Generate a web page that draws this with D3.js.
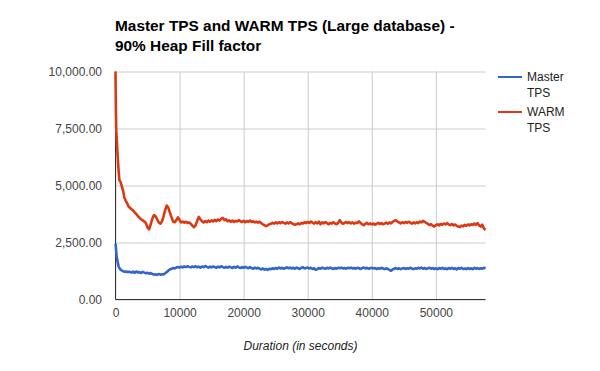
<!DOCTYPE html>
<html>
<head>
<meta charset="utf-8">
<script src="https://cdn.jsdelivr.net/npm/d3@7"></script>
<style>
  html, body { margin: 0; padding: 0; background: #fff; }
  svg { display: block; font-family: "Liberation Sans", Arial, sans-serif; }
</style>
</head>
<body>
<svg id="chart" width="600" height="371"></svg>
<script>
// ---------------- DATA ----------------
const titleLines = ["Master TPS and WARM TPS (Large database) -", "90% Heap Fill factor"];
const xAxisTitle = "Duration (in seconds)";
const seriesNames = ["Master TPS", "WARM TPS"];
const xTickValues = [0, 10000, 20000, 30000, 40000, 50000];
const yTickValues = [0, 2500, 5000, 7500, 10000];

// sample times (seconds): dense start, then every 250 s
const earlyTimes = [0, 60, 120, 200, 300, 400, 500, 600, 800, 1000, 1200, 1400, 1600, 1800, 2000];
const sampleStep = 250;
const lastTime = 57750;

const masterTPS = [
  2450, 2300, 2050, 1850, 1700, 1550, 1450, 1380, 1310, 1270, 1240, 1220, 1230, 1200, 1220,
  1210,
  1180, 1220, 1170, 1230, 1190, 1200, 1160, 1210, 1180, 1150,
  1170, 1130, 1160, 1120, 1090, 1110, 1080, 1120, 1090, 1110,
  1100, 1150, 1200, 1270, 1320, 1350, 1380, 1360, 1400, 1420,
  1400, 1440, 1410, 1450, 1420, 1460, 1430, 1410, 1450, 1420,
  1460, 1410, 1440, 1400, 1450, 1420, 1470, 1430, 1400, 1440,
  1410, 1450, 1420, 1390, 1440, 1410, 1460, 1420, 1390, 1430,
  1400, 1440, 1410, 1380, 1430, 1400, 1450, 1410, 1380, 1420,
  1390, 1430, 1400, 1370, 1420, 1380, 1350, 1400, 1360, 1390,
  1350, 1320, 1360, 1310, 1340, 1300, 1350, 1330, 1370, 1340,
  1380, 1350, 1400, 1360, 1390, 1350, 1380, 1410, 1370, 1400,
  1360, 1390, 1350, 1400, 1370, 1340, 1390, 1410, 1360, 1380,
  1400, 1360, 1390, 1340, 1370, 1300, 1330, 1380, 1350, 1400,
  1370, 1350, 1390, 1360, 1400, 1370, 1340, 1380, 1350, 1390,
  1370, 1400, 1360, 1380, 1350, 1390, 1370, 1400, 1360, 1380,
  1350, 1390, 1370, 1340, 1380, 1400, 1360, 1390, 1350, 1370,
  1390, 1360, 1380, 1340, 1370, 1350, 1390, 1360, 1330, 1370,
  1340, 1300, 1260, 1320, 1350, 1380, 1340, 1370, 1330, 1360,
  1380, 1340, 1370, 1350, 1390, 1360, 1330, 1370, 1350, 1390,
  1360, 1400, 1350, 1380, 1340, 1370, 1390, 1350, 1380, 1340,
  1370, 1330, 1380, 1350, 1390, 1340, 1370, 1330, 1380, 1350,
  1390, 1340, 1370, 1320, 1380, 1350, 1390, 1340, 1360, 1330,
  1380, 1340, 1370, 1330, 1390, 1350, 1380, 1340, 1370, 1350,
  1390, 1360
];

const warmTPS = [
  10000, 8300, 7400, 7000, 6500, 6000, 5600, 5250, 5150, 4950, 4750, 4450, 4330, 4230, 4100,
  4020,
  3960, 3900, 3820, 3740, 3660, 3580, 3520, 3470, 3420, 3350,
  3150, 3080, 3300, 3550, 3700, 3650, 3520, 3380, 3330, 3420,
  3650, 3920, 4120, 4020, 3800, 3600, 3420, 3390, 3480, 3600,
  3480, 3380, 3420, 3370, 3410, 3360, 3380, 3320, 3240, 3170,
  3250, 3450, 3620, 3520, 3430, 3380, 3440, 3390, 3460, 3410,
  3470, 3420, 3490, 3440, 3510, 3460, 3540, 3580, 3480, 3520,
  3430, 3470, 3410, 3460, 3400, 3450, 3420, 3480, 3430, 3400,
  3450, 3390, 3440, 3410, 3460, 3400, 3430, 3380, 3420, 3370,
  3410, 3350, 3300, 3260, 3220, 3250, 3300, 3320, 3360, 3330,
  3380, 3340, 3390, 3350, 3400, 3360, 3330, 3380, 3340, 3390,
  3350, 3310, 3280, 3300, 3340, 3300, 3360, 3330, 3390, 3350,
  3400, 3360, 3420, 3370, 3330, 3390, 3340, 3410, 3300, 3380,
  3340, 3400, 3350, 3300, 3360, 3330, 3390, 3340, 3300, 3360,
  3480, 3380, 3320, 3360, 3400, 3350, 3390, 3340, 3380, 3330,
  3370, 3350, 3430, 3360, 3300, 3260, 3320, 3360, 3300, 3340,
  3290, 3330, 3280, 3320, 3360, 3310, 3350, 3300, 3330, 3370,
  3320, 3380, 3340, 3400, 3450, 3480, 3420, 3380, 3340, 3390,
  3350, 3400, 3360, 3410, 3370, 3330, 3380, 3340, 3390, 3350,
  3420, 3380, 3450, 3400, 3360, 3320, 3270, 3300, 3240, 3200,
  3260, 3300, 3250, 3310, 3280, 3330, 3290, 3350, 3300, 3260,
  3310, 3250, 3290, 3230, 3200, 3180, 3240, 3210, 3270, 3230,
  3290, 3250, 3300, 3270, 3330, 3280, 3350, 3250, 3200, 3280,
  3120, 3050
];

const durations = earlyTimes.concat(d3.range(earlyTimes[earlyTimes.length - 1] + sampleStep, lastTime + 1, sampleStep));

const seriesColors = ["#3366cc", "#dc3912"];

// ---------------- CHART ----------------
const svg = d3.select("#chart");
const plotLeft = 115.5, plotRight = 485.5, plotTop = 71.5, plotBottom = 299.5;

const x = d3.scaleLinear().domain([0, lastTime]).range([plotLeft, plotRight]);
const y = d3.scaleLinear().domain([0, 10000]).range([plotBottom, plotTop]);

svg.append("rect").attr("width", 600).attr("height", 371).attr("fill", "#fff");

// title
svg.append("text")
  .attr("x", 115).attr("y", 31)
  .attr("font-size", 15.4).attr("font-weight", "bold").attr("fill", "#000")
  .selectAll("tspan").data(titleLines).join("tspan")
  .attr("x", 115).attr("dy", (d, i) => i === 0 ? 0 : 20).text(d => d);

// horizontal grid + y labels
const yAxis = svg.append("g").attr("transform", `translate(${plotLeft},0)`)
  .call(d3.axisLeft(y).tickValues(yTickValues).tickFormat(d3.format(",.2f"))
    .tickSizeInner(-(plotRight - plotLeft)).tickSizeOuter(0).tickPadding(13.5));
yAxis.select(".domain").remove();
yAxis.selectAll("line").attr("stroke", "#cccccc");
yAxis.selectAll("text").attr("font-size", 12).attr("fill", "#444").attr("font-family", "Liberation Sans, Arial, sans-serif");

// vertical grid + x labels
const xAxis = svg.append("g").attr("transform", `translate(0,${plotBottom})`)
  .call(d3.axisBottom(x).tickValues(xTickValues).tickFormat(d3.format("d"))
    .tickSizeInner(-(plotBottom - plotTop)).tickSizeOuter(0).tickPadding(9));
xAxis.select(".domain").remove();
xAxis.selectAll("line").attr("stroke", "#cccccc");
xAxis.selectAll("text").attr("font-size", 12).attr("fill", "#444").attr("font-family", "Liberation Sans, Arial, sans-serif");

// baselines
svg.append("line").attr("x1", x(0)).attr("x2", x(0)).attr("y1", plotTop).attr("y2", plotBottom)
  .attr("stroke", "#333").attr("stroke-width", 1);
svg.append("line").attr("x1", plotLeft).attr("x2", plotRight).attr("y1", y(0)).attr("y2", y(0))
  .attr("stroke", "#333").attr("stroke-width", 1);

// lines
const seriesData = [masterTPS, warmTPS];
const line = d3.line().x((d, i) => x(durations[i])).y(d => y(d));
svg.append("g").selectAll("path").data(seriesData).join("path")
  .attr("d", d => line(d))
  .attr("fill", "none")
  .attr("stroke", (d, i) => seriesColors[i])
  .attr("stroke-width", 2.6)
  .attr("stroke-linejoin", "round");

// x axis title
svg.append("text")
  .attr("x", (plotLeft + plotRight) / 2).attr("y", 350)
  .attr("text-anchor", "middle").attr("font-size", 12).attr("font-style", "italic")
  .attr("fill", "#222").text(xAxisTitle);

// legend
const legend = svg.append("g");
seriesNames.forEach((name, i) => {
  const ly = 77 + i * 35;
  legend.append("line").attr("x1", 498).attr("x2", 522).attr("y1", ly).attr("y2", ly)
    .attr("stroke", seriesColors[i]).attr("stroke-width", 2);
  const words = name.split(" ");
  legend.append("text").attr("x", 527).attr("y", ly + 4)
    .attr("font-size", 12).attr("fill", "#222")
    .selectAll("tspan").data(words).join("tspan")
    .attr("x", 527).attr("dy", (d, j) => j === 0 ? 0 : 16).text(d => d);
});
</script>
</body>
</html>
